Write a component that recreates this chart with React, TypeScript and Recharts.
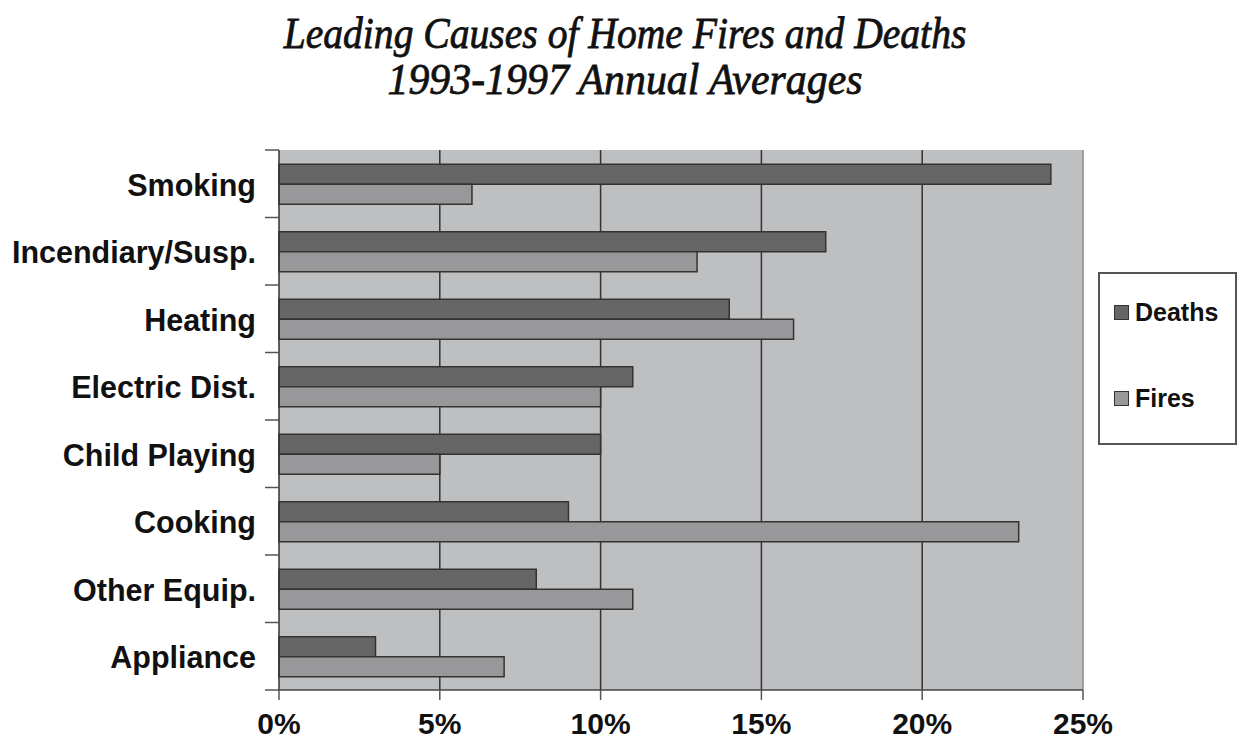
import React from 'react';
import {
  BarChart,
  Bar,
  XAxis,
  YAxis,
  CartesianGrid,
  ReferenceLine,
} from 'recharts';

const causes = [
  'Smoking',
  'Incendiary/Susp.',
  'Heating',
  'Electric Dist.',
  'Child Playing',
  'Cooking',
  'Other Equip.',
  'Appliance',
];
const deaths = [24, 17, 14, 11, 10, 9, 8, 3];
const fires = [6, 13, 16, 10, 5, 23, 11, 7];
const xTicks = [0, 5, 10, 15, 20, 25];

const series = [
  { key: 'Deaths', color: '#666666' },
  { key: 'Fires', color: '#98989a' },
];

const data = causes.map((cause, i) => ({
  cause,
  Deaths: deaths[i],
  Fires: fires[i],
}));

const LABEL_FONT = '"Liberation Sans", Arial, sans-serif';

// category axis: label in the middle, tick marks on the band edges
const CauseTick = (props: any) => {
  const { x, y, payload, index, visibleTicksCount, height } = props;
  const count = visibleTicksCount || causes.length;
  const band = height ? height / count : 67.5;
  const axisX = x + 8; // default tickSize + tickMargin
  const top = y - band / 2;
  return (
    <g>
      <line x1={axisX - 14} x2={axisX} y1={top} y2={top} stroke="#555" strokeWidth={1.5} />
      {index === count - 1 && (
        <line x1={axisX - 14} x2={axisX} y1={y + band / 2} y2={y + band / 2} stroke="#555" strokeWidth={1.5} />
      )}
      <text
        x={axisX - 23}
        y={y + 1}
        textAnchor="end"
        dominantBaseline="central"
        fontFamily={LABEL_FONT}
        fontWeight="bold"
        fontSize={30.5}
        fill="#111"
      >
        {payload.value}
      </text>
    </g>
  );
};

const PercentTick = (props: any) => {
  const { x, y, payload } = props;
  return (
    <text
      x={x}
      y={y + 32}
      textAnchor="middle"
      fontFamily={LABEL_FONT}
      fontWeight="bold"
      fontSize={30}
      fill="#111"
    >
      {payload.value}%
    </text>
  );
};

const LegendBox = () => (
  <div
    style={{
      position: 'absolute',
      left: 1098,
      top: 272,
      width: 135,
      height: 169,
      border: '2px solid #555',
      background: '#fff',
    }}
  >
    {series.map((s, i) => (
      <div
        key={s.key}
        style={{
          position: 'absolute',
          left: 14,
          top: 24 + i * 86,
          display: 'flex',
          alignItems: 'center',
          fontFamily: LABEL_FONT,
          fontWeight: 'bold',
          fontSize: 25,
          color: '#111',
        }}
      >
        <span
          style={{
            display: 'inline-block',
            width: 13,
            height: 13,
            background: s.color,
            border: '1.5px solid #333',
            marginRight: 6,
          }}
        />
        {s.key}
      </div>
    ))}
  </div>
);

const titleLine = (text: string, top: number, scale: number) => (
  <div
    style={{
      position: 'absolute',
      left: 0,
      top,
      width: 1250,
      textAlign: 'center',
      fontFamily: '"Liberation Serif", "DejaVu Serif", serif',
      fontStyle: 'italic',
      fontSize: 45,
      lineHeight: '46px',
      color: '#111',
      WebkitTextStroke: '0.8px #111',
      transform: `scaleX(${scale})`,
      transformOrigin: '625px 0',
    }}
  >
    {text}
  </div>
);

export default function App() {
  return (
    <div style={{ position: 'absolute', left: 0, top: 0, width: 1239, height: 755, background: '#fff' }}>
      {titleLine('Leading Causes of Home Fires and Deaths', 10, 0.88)}
      {titleLine('1993-1997 Annual Averages', 56, 0.93)}
      <BarChart
        width={1239}
        height={755}
        data={data}
        layout="vertical"
        margin={{ top: 150, right: 156, bottom: 0, left: 0 }}
        barCategoryGap="21%"
        barGap={0}
      >
        <CartesianGrid
          horizontal={false}
          vertical
          verticalValues={[5, 10, 15, 20]}
          stroke="#333"
          strokeWidth={1.5}
          fill="#bebfc1"
          fillOpacity={1}
        />
        <XAxis
          type="number"
          domain={[0, 25]}
          ticks={xTicks}
          height={65}
          axisLine={{ stroke: '#444', strokeWidth: 1.5 }}
          tickLine={{ stroke: '#555', strokeWidth: 1.5 }}
          tickSize={10}
          tick={<PercentTick />}
          interval={0}
        />
        <YAxis
          type="category"
          dataKey="cause"
          width={279}
          axisLine={{ stroke: '#333', strokeWidth: 1.5 }}
          tickLine={false}
          tick={<CauseTick />}
          interval={0}
        />
        <ReferenceLine x={25} stroke="#8a8a8a" strokeWidth={1.5} />
        {series.map((s) => (
          <Bar
            key={s.key}
            dataKey={s.key}
            fill={s.color}
            stroke="#333"
            strokeWidth={1.5}
            isAnimationActive={false}
          />
        ))}
      </BarChart>
      <LegendBox />
    </div>
  );
}
